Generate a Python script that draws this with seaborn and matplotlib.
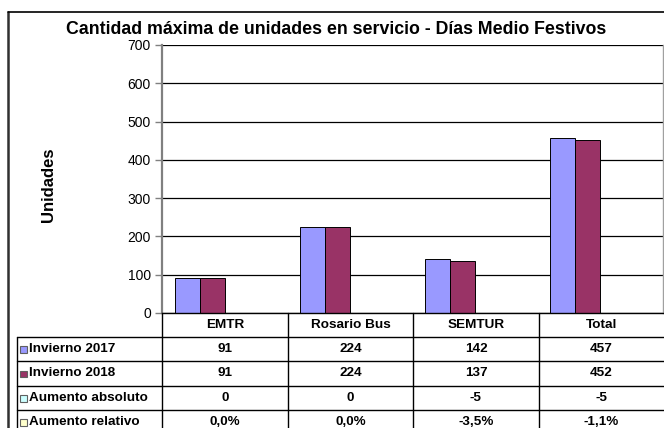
import matplotlib
matplotlib.use("Agg")
import matplotlib.pyplot as plt
from matplotlib.lines import Line2D
from matplotlib.patches import Rectangle
import seaborn as sns
import pandas as pd

categories = ["EMTR", "Rosario Bus", "SEMTUR", "Total"]
series = ["Invierno 2017", "Invierno 2018", "Aumento absoluto", "Aumento relativo"]
invierno_2017 = [91, 224, 142, 457]
invierno_2018 = [91, 224, 137, 452]
aumento_absoluto = [0, 0, -5, -5]
aumento_relativo = [0.0, 0.0, -3.5, -1.1]  # percent
colors = ["#9999FF", "#993366", "#CCFFFF", "#FFFFCC"]
yticks = [0, 100, 200, 300, 400, 500, 600, 700]

sns.set_theme(style="white")
plt.rcParams["font.family"] = ["Liberation Sans", "DejaVu Sans"]
plt.rcParams["text.color"] = "black"
plt.rcParams["axes.labelcolor"] = "black"
plt.rcParams["xtick.color"] = "black"
plt.rcParams["ytick.color"] = "black"

rows = []
for s, vals in zip(series, [invierno_2017, invierno_2018, aumento_absoluto,
                            [v / 100 for v in aumento_relativo]]):
    for c, v in zip(categories, vals):
        rows.append({"cat": c, "serie": s, "val": v})
df = pd.DataFrame(rows)

W, H = 664, 428
fig = plt.figure(figsize=(W / 100, H / 100), dpi=100)
fig.patch.set_facecolor("white")

def fx(x):
    return x / W

def fy(y):
    return 1 - y / H

x0, x1, ytop, ybot = 162, 663, 45, 313
ax = fig.add_axes([fx(x0), fy(ybot), fx(x1) - fx(x0), fy(ytop) - fy(ybot)])
sns.barplot(data=df, x="cat", y="val", hue="serie", order=categories,
            hue_order=series, palette=colors, edgecolor="black", linewidth=0.7,
            width=0.8, ax=ax, legend=False, saturation=1)
ax.set_xlim(-0.5, len(categories) - 0.5)
ax.set_ylim(0, 700)
ax.set_yticks(yticks)
ax.set_yticklabels([str(t) for t in yticks], fontsize=10, color="black")
ax.yaxis.grid(True, color="black", linewidth=0.9)
ax.set_axisbelow(True)
ax.set_xticks([])
ax.set_xlabel("")
ax.set_ylabel("")
ax.tick_params(axis="y", length=5, width=1, color="#808080", pad=3, left=True,
               labelcolor="black")
ax.spines["left"].set_color("#808080")
ax.spines["left"].set_linewidth(1.6)
ax.spines["right"].set_color("#a0a0a0")
ax.spines["right"].set_linewidth(1)
ax.spines["top"].set_visible(False)
ax.spines["bottom"].set_color("black")
ax.spines["bottom"].set_linewidth(1)

# title and y label
fig.text(fx(336), fy(30), "Cantidad máxima de unidades en servicio - Días Medio Festivos",
         ha="center", va="center", fontsize=12.8, fontweight="bold", color="black")
fig.text(fx(49), fy(185), "Unidades", rotation=90, ha="center", va="center",
         fontsize=12, fontweight="bold", color="black")

# figure border
fig.add_artist(Line2D([fx(8), fx(8)], [fy(12), fy(430)], color="#303030", lw=1.8))
fig.add_artist(Line2D([fx(8), fx(666)], [fy(12), fy(12)], color="black", lw=1.2))

# data table
col_edges = [162, 288, 413, 539, 664]
row_edges = [313, 337, 361, 386, 410, 435]
lc = "black"
tleft = 17
for y in row_edges[1:5]:
    fig.add_artist(Line2D([fx(tleft), fx(664)], [fy(y), fy(y)], color=lc, lw=1))
fig.add_artist(Line2D([fx(tleft), fx(tleft)], [fy(337), fy(430)], color=lc, lw=1))
for x in col_edges[:4]:
    fig.add_artist(Line2D([fx(x), fx(x)], [fy(313), fy(430)], color=lc, lw=1))

tfs = 9.7
for i, c in enumerate(categories):
    cx = (col_edges[i] + col_edges[i + 1]) / 2
    fig.text(fx(cx), fy(325), c, ha="center", va="center", fontsize=tfs,
             fontweight="bold", color="black")

def fmt_int(v):
    return str(v)

def fmt_pct(v):
    return f"{v:.1f}%".replace(".", ",")

table_vals = [
    [fmt_int(v) for v in invierno_2017],
    [fmt_int(v) for v in invierno_2018],
    [fmt_int(v) for v in aumento_absoluto],
    [fmt_pct(v) for v in aumento_relativo],
]
for r, (s, vals) in enumerate(zip(series, table_vals)):
    cy = (row_edges[r + 1] + row_edges[r + 2]) / 2
    if r == 3:
        cy = 422
    fig.add_artist(Rectangle((fx(20), fy(cy + 3.5)), fx(6.5), 6.5 / H,
                             facecolor=colors[r], edgecolor="#606060", lw=0.8))
    fig.text(fx(29), fy(cy), s, ha="left", va="center", fontsize=tfs,
             fontweight="bold", color="black")
    for i, v in enumerate(vals):
        cx = (col_edges[i] + col_edges[i + 1]) / 2
        fig.text(fx(cx), fy(cy), v, ha="center", va="center", fontsize=tfs,
                 fontweight="bold", color="black")

fig.savefig("out.png", dpi=100)
